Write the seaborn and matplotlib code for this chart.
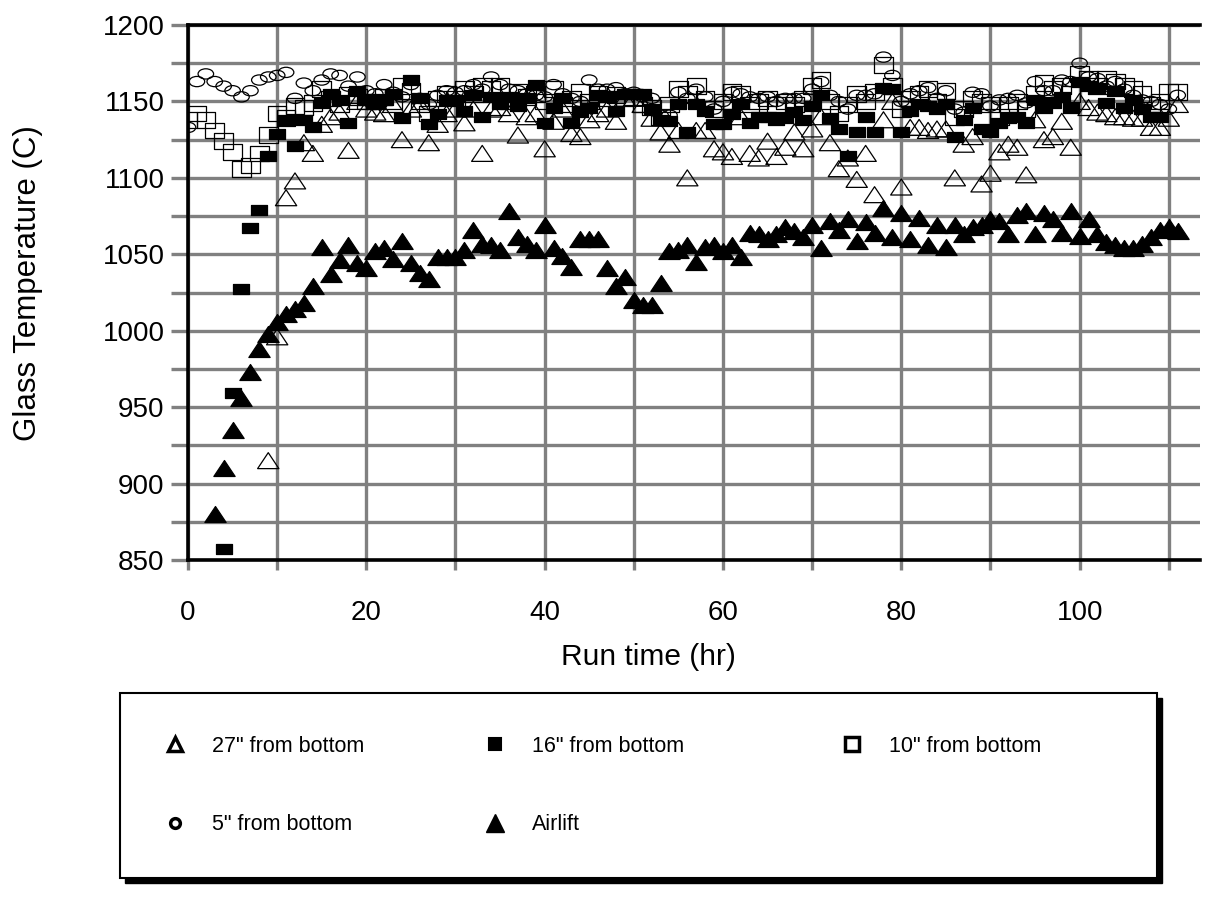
import matplotlib
matplotlib.use("Agg")
import matplotlib.pyplot as plt
import seaborn as sns
import pandas as pd
from matplotlib.path import Path
from matplotlib.transforms import Affine2D
from matplotlib.lines import Line2D
from matplotlib.patches import Rectangle
from matplotlib.ticker import MultipleLocator

# ---------------- data ----------------
run_time_hr = [0, 1, 2, 3, 4, 5, 6, 7, 8, 9, 10, 11, 12, 13, 14, 15, 16, 17, 18, 19,
               20, 21, 22, 23, 24, 25, 26, 27, 28, 29, 30, 31, 32, 33, 34, 35, 36, 37, 38, 39,
               40, 41, 42, 43, 44, 45, 46, 47, 48, 49, 50, 51, 52, 53, 54, 55, 56, 57, 58, 59,
               60, 61, 62, 63, 64, 65, 66, 67, 68, 69, 70, 71, 72, 73, 74, 75, 76, 77, 78, 79,
               80, 81, 82, 83, 84, 85, 86, 87, 88, 89, 90, 91, 92, 93, 94, 95, 96, 97, 98, 99,
               100, 101, 102, 103, 104, 105, 106, 107, 108, 109, 110, 111]

start_27in = 9
temp_27in = [915, 996, 1087, 1098, 1123, 1116, 1135, 1140, 1143, 1118, 1150, 1145, 1143, 1142,
             1148, 1125, 1145, 1148, 1123, 1135, 1142, 1145, 1136, 1145, 1116, 1145, 1146, 1142,
             1128, 1140, 1142, 1119, 1137, 1145, 1129, 1127, 1138, 1142, 1145, 1137, 1152, 1152,
             1148, 1139, 1130, 1122, 1131, 1100, 1131, 1131, 1119, 1117, 1114, 1140, 1116, 1113,
             1124, 1114, 1120, 1130, 1119, 1132, 1140, 1123, 1106, 1113, 1099, 1116, 1089, 1138,
             1150, 1094, 1133, 1133, 1131, 1132, 1132, 1100, 1122, 1127, 1096, 1103, 1117, 1122,
             1120, 1102, 1138, 1125, 1127, 1137, 1120, 1150, 1146, 1143, 1142, 1140, 1140, 1139,
             1139, 1133, 1133, 1139, 1148]

start_16in = 4
temp_16in = [857, 959, 1027, 1067, 1079, 1114, 1129, 1138, 1121, 1138, 1133, 1149, 1155, 1151,
             1136, 1157, 1151, 1148, 1151, 1155, 1139, 1164, 1152, 1135, 1142, 1151, 1151, 1144,
             1154, 1140, 1153, 1148, 1153, 1147, 1152, 1161, 1136, 1146, 1152, 1136, 1143, 1146,
             1154, 1153, 1144, 1155, 1155, 1155, 1145, 1138, 1137, 1148, 1130, 1148, 1144, 1135,
             1135, 1142, 1148, 1136, 1140, 1140, 1138, 1139, 1143, 1138, 1147, 1154, 1139, 1132,
             1114, 1130, 1140, 1130, 1159, 1158, 1130, 1144, 1148, 1147, 1145, 1148, 1127, 1138,
             1146, 1132, 1130, 1136, 1139, 1140, 1136, 1151, 1146, 1149, 1153, 1146, 1163, 1160,
             1159, 1149, 1157, 1146, 1151, 1145, 1140, 1140]

start_10in = 0
temp_10in = [1138, 1142, 1138, 1131, 1124, 1117, 1106, 1108, 1116, 1128, 1142, 1139, 1147, 1146,
             1149, 1158, 1152, 1148, 1154, 1153, 1150, 1150, 1153, 1150, 1160, 1157, 1150, 1142,
             1152, 1155, 1152, 1158, 1155, 1160, 1158, 1160, 1150, 1156, 1153, 1155, 1150, 1158,
             1148, 1152, 1156, 1150, 1155, 1152, 1154, 1152, 1153, 1148, 1146, 1140, 1148, 1158,
             1155, 1160, 1152, 1145, 1150, 1156, 1155, 1148, 1150, 1152, 1148, 1150, 1148, 1152,
             1160, 1164, 1150, 1142, 1148, 1155, 1150, 1156, 1174, 1160, 1145, 1152, 1155, 1158,
             1150, 1157, 1140, 1145, 1152, 1150, 1148, 1140, 1148, 1150, 1145, 1155, 1162, 1158,
             1160, 1155, 1168, 1165, 1160, 1165, 1163, 1160, 1158, 1155, 1148, 1150, 1156, 1156]

start_5in = 0
temp_5in = [1133, 1163, 1168, 1163, 1160, 1157, 1153, 1157, 1164, 1166, 1167, 1169, 1152, 1162,
            1157, 1164, 1168, 1167, 1160, 1166, 1157, 1155, 1161, 1156, 1153, 1161, 1152, 1148,
            1154, 1157, 1156, 1157, 1161, 1158, 1166, 1161, 1158, 1157, 1155, 1154, 1153, 1161,
            1155, 1152, 1150, 1164, 1158, 1158, 1159, 1155, 1156, 1153, 1152, 1141, 1141, 1156,
            1152, 1158, 1153, 1145, 1150, 1156, 1155, 1153, 1152, 1153, 1150, 1152, 1152, 1152,
            1158, 1163, 1154, 1150, 1145, 1154, 1154, 1155, 1179, 1167, 1150, 1155, 1157, 1159,
            1152, 1157, 1145, 1143, 1156, 1155, 1147, 1151, 1152, 1154, 1149, 1163, 1157, 1157,
            1164, 1163, 1175, 1166, 1165, 1160, 1163, 1158, 1154, 1151, 1150, 1148, 1145, 1154]

start_airlift = 3
temp_airlift = [880, 910, 935, 956, 973, 988, 998, 1006, 1011, 1014, 1018, 1029, 1055, 1037,
                1046, 1056, 1044, 1041, 1052, 1054, 1047, 1059, 1044, 1038, 1034, 1048, 1048, 1048,
                1053, 1066, 1057, 1056, 1053, 1078, 1061, 1057, 1053, 1069, 1054, 1049, 1042, 1060,
                1060, 1060, 1041, 1029, 1035, 1020, 1017, 1017, 1031, 1052, 1053, 1056, 1045, 1055,
                1056, 1052, 1056, 1048, 1064, 1063, 1060, 1063, 1068, 1065, 1061, 1069, 1054, 1072,
                1066, 1073, 1059, 1071, 1064, 1080, 1061, 1077, 1060, 1074, 1056, 1069, 1055, 1069,
                1063, 1068, 1069, 1073, 1072, 1063, 1076, 1078, 1063, 1077, 1073, 1064, 1078, 1062,
                1073, 1063, 1058, 1056, 1054, 1054, 1057, 1061, 1066, 1068, 1065]

series_labels = ['27" from bottom', '16" from bottom', '10" from bottom',
                 '5" from bottom', 'Airlift']
x_ticks = [0, 20, 40, 60, 80, 100]
y_ticks = [850, 900, 950, 1000, 1050, 1100, 1150, 1200]

# ---------------- style ----------------
sns.set_theme(style="white")
plt.rcParams['font.family'] = ['Liberation Sans', 'DejaVu Sans']
plt.rcParams['text.color'] = 'black'
plt.rcParams['axes.labelcolor'] = 'black'

W, H = 1212, 899
fig = plt.figure(figsize=(W / 100, H / 100), dpi=100)
fig.patch.set_facecolor('white')
ax = fig.add_axes([188 / W, 1 - 560 / H, (1200 - 188) / W, (560 - 25) / H])


def frame(start, vals):
    return pd.DataFrame({"hr": run_time_hr[start:start + len(vals)], "temp": vals})


# custom (slightly wide) marker shapes
tri = Path([(-0.5, -0.375), (0.5, -0.375), (0.0, 0.375), (-0.5, -0.375)],
           [Path.MOVETO, Path.LINETO, Path.LINETO, Path.CLOSEPOLY])
rect_filled = Path([(-0.5, -0.33), (0.5, -0.33), (0.5, 0.33), (-0.5, 0.33), (-0.5, -0.33)],
                   [Path.MOVETO, Path.LINETO, Path.LINETO, Path.LINETO, Path.CLOSEPOLY])
rect_open = Path([(-0.5, -0.42), (0.5, -0.42), (0.5, 0.42), (-0.5, 0.42), (-0.5, -0.42)],
                 [Path.MOVETO, Path.LINETO, Path.LINETO, Path.LINETO, Path.CLOSEPOLY])
ellipse = Affine2D().scale(0.5, 0.33).transform_path(Path.unit_circle())

ew = 0.9
sns.scatterplot(data=frame(start_5in, temp_5in), x="hr", y="temp", ax=ax, marker=ellipse,
                s=125, color="black", facecolor="none", edgecolor="black", linewidth=ew, zorder=3)
sns.scatterplot(data=frame(start_10in, temp_10in), x="hr", y="temp", ax=ax, marker=rect_open,
                s=180, color="black", facecolor="none", edgecolor="black", linewidth=ew, zorder=4)
sns.scatterplot(data=frame(start_16in, temp_16in), x="hr", y="temp", ax=ax, marker=rect_filled,
                s=130, color="black", facecolor="black", edgecolor="black", linewidth=ew, zorder=5)
sns.scatterplot(data=frame(start_27in, temp_27in), x="hr", y="temp", ax=ax, marker=tri,
                s=235, color="black", facecolor="none", edgecolor="black", linewidth=ew, zorder=6)
sns.scatterplot(data=frame(start_airlift, temp_airlift), x="hr", y="temp", ax=ax, marker=tri,
                s=235, color="black", facecolor="black", edgecolor="black", linewidth=ew, zorder=7)

ax.set_xlim(0, 113.5)
ax.set_ylim(850, 1200)
ax.set_xticks(x_ticks)
ax.set_yticks(y_ticks)
ax.xaxis.set_minor_locator(MultipleLocator(10))
ax.yaxis.set_minor_locator(MultipleLocator(25))
grey = "#808080"
ax.grid(True, which="both", color=grey, linewidth=2.4)
ax.set_axisbelow(True)

ax.tick_params(axis="y", which="both", direction="out", length=12, width=2.4, color=grey,
               pad=5, labelsize=20, labelcolor="black", left=True)
ax.tick_params(axis="x", which="both", direction="out", length=7, width=2.4, color=grey,
               pad=22, labelsize=20, labelcolor="black", bottom=True)

for side in ["left", "top", "bottom"]:
    ax.spines[side].set_visible(True)
    ax.spines[side].set_color("black")
    ax.spines[side].set_linewidth(2.6)
ax.spines["right"].set_visible(False)

ax.set_xlabel("Run time (hr)", fontsize=21.5, color="black")
ax.set_ylabel("Glass Temperature (C)", fontsize=22.5, color="black")
ax.xaxis.set_label_coords((648 - 188) / 1012, (560 - 643) / 535)
ax.yaxis.set_label_coords((43 - 188) / 1012, (560 - 283) / 535)

# ---------------- legend box ----------------
fig.add_artist(Rectangle((125 / W, 1 - 883 / H), 1037 / W, 185 / H, transform=fig.transFigure,
                         facecolor="black", edgecolor="black", zorder=1))
fig.add_artist(Rectangle((120 / W, 1 - 878 / H), 1037 / W, 185 / H, transform=fig.transFigure,
                         facecolor="white", edgecolor="black", linewidth=1.5, zorder=2))

h27 = Line2D([], [], linestyle="none", marker="^", markersize=10, markerfacecolor="white",
             markeredgecolor="black", markeredgewidth=2.5)
h16 = Line2D([], [], linestyle="none", marker="s", markersize=9, markerfacecolor="black",
             markeredgecolor="black", markeredgewidth=1.5)
h10 = Line2D([], [], linestyle="none", marker="s", markersize=10, markerfacecolor="white",
             markeredgecolor="black", markeredgewidth=2.5)
h5 = Line2D([], [], linestyle="none", marker="o", markersize=7, markerfacecolor="white",
            markeredgecolor="black", markeredgewidth=2.5)
hair = Line2D([], [], linestyle="none", marker="^", markersize=13, markerfacecolor="black",
              markeredgecolor="black", markeredgewidth=1)

leg_kw = dict(loc="upper left", frameon=False, borderpad=0, borderaxespad=0, handlelength=1.0,
              handletextpad=1.2, labelspacing=2.66, fontsize=15.5, labelcolor="black")
col_x = [175, 495, 852]
col_handles = [[h27, h5], [h16, hair], [h10]]
col_labels = [[series_labels[0], series_labels[3]], [series_labels[1], series_labels[4]],
              [series_labels[2]]]
for cx, hs, ls in zip(col_x, col_handles, col_labels):
    lg = fig.legend(handles=hs, labels=ls, bbox_to_anchor=((cx - 10.75) / W, 1 - 736 / H), **leg_kw)
    lg.set_zorder(5)

fig.savefig("out.png", dpi=100, facecolor="white")
